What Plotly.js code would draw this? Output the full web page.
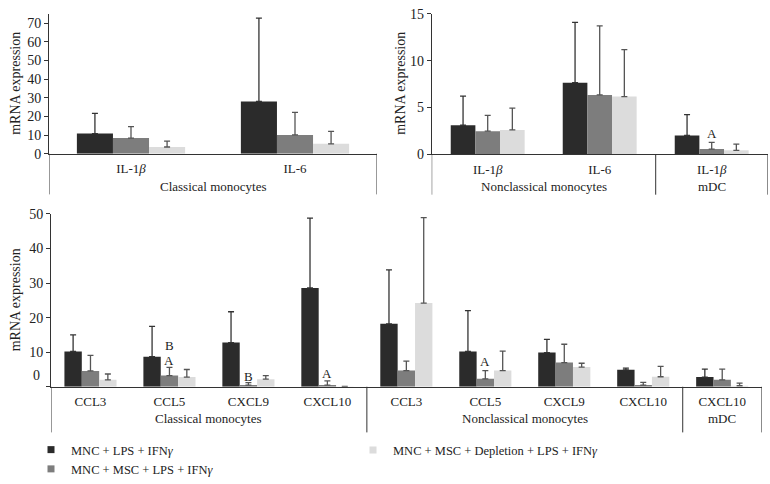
<!DOCTYPE html>
<html>
<head>
<meta charset="utf-8">
<script src="https://cdn.plot.ly/plotly-3.0.1.min.js"></script>
<style>html,body{margin:0;padding:0;background:#fff;}#chart{width:770px;height:484px;}</style>
</head>
<body>
<div id="chart"></div>
<script>
// ---------- data ----------
var seriesNames = ["MNC + LPS + IFN<i>γ</i>", "MNC + MSC + LPS + IFN<i>γ</i>", "MNC + MSC + Depletion + LPS + IFN<i>γ</i>"];

// Panel A (top left): classical monocytes
var groupsA = ["Classical monocytes", "Classical monocytes"];
var catsA = ["IL-1<i>β</i>", "IL-6"];
var a_lps = [10.8, 28.0];
var a_lps_err = [10.8, 44.7];
var a_msc = [8.4, 10.1];
var a_msc_err = [6.1, 12.1];
var a_dep = [3.6, 5.3];
var a_dep_err = [3.1, 6.7];

// Panel B (top right): nonclassical monocytes and mDC
var groupsB = ["Nonclassical monocytes", "Nonclassical monocytes", "mDC"];
var catsB = ["IL-1<i>β</i>", "IL-6", "IL-1<i>β</i>"];
var b_lps = [3.08, 7.64, 1.98];
var b_lps_err = [3.12, 6.44, 2.23];
var b_msc = [2.44, 6.33, 0.53];
var b_msc_err = [1.70, 7.39, 0.71];
var b_dep = [2.58, 6.15, 0.39];
var b_dep_err = [2.34, 5.03, 0.67];

// Panel C (bottom): chemokines
var groupsC = ["Classical monocytes", "Classical monocytes", "Classical monocytes", "Classical monocytes",
               "Nonclassical monocytes", "Nonclassical monocytes", "Nonclassical monocytes", "Nonclassical monocytes", "mDC"];
var catsC = ["CCL3", "CCL5", "CXCL9", "CXCL10", "CCL3", "CCL5", "CXCL9", "CXCL10", "CXCL10"];
var c_lps = [10.2, 8.7, 12.8, 28.6, 18.2, 10.2, 9.9, 4.9, 2.8];
var c_lps_err = [4.8, 8.8, 8.9, 20.2, 15.6, 11.8, 3.8, 0.5, 2.3];
var c_msc = [4.6, 3.25, 0.5, 0.5, 4.7, 2.3, 7.0, 0.5, 2.0];
var c_msc_err = [4.5, 2.35, 0.7, 1.2, 2.7, 2.4, 5.3, 0.8, 3.1];
var c_dep = [2.0, 2.8, 2.2, 0.08, 24.2, 4.7, 5.7, 2.9, 0.3];
var c_dep_err = [1.7, 2.2, 1.0, 0, 24.7, 5.6, 1.1, 3.0, 0.75];

// significance letters: [panel, category index, y (letter centre), text]
var sigLabels = [
  ["B", 2, 2.15, "A"],
  ["C", 1, 7.7, "A"],
  ["C", 1, 12.0, "B"],
  ["C", 2, 2.9, "B"],
  ["C", 3, 3.8, "A"],
  ["C", 5, 7.2, "A"]
];

// ---------- style ----------
var colors = ["#2b2b2b", "#7d7d7d", "#dcdcdc"];
var errColors = ["#333333", "#555555", "#555555"];
var fontFam = "'Liberation Serif', 'Times New Roman', serif";
var txtColor = "#222";
var W = 770, H = 484;

function idx(arr) { return arr.map(function(_, i) { return i; }); }

function mk(cats, vals, errs, k, xa, ya) {
  return {
    type: "bar",
    x: idx(cats),
    y: vals,
    name: seriesNames[k],
    marker: {color: colors[k], line: {width: 0}},
    error_y: {type: "data", symmetric: false, array: errs, arrayminus: vals.map(function(){return 0;}),
              color: errColors[k], thickness: 1.3, width: 3},
    xaxis: xa, yaxis: ya,
    showlegend: false,
    hoverinfo: "y"
  };
}
// legend-only proxies (small square swatches like the reference)
function legendProxy(k) {
  return {
    type: "scatter", mode: "markers", x: [null], y: [null], name: seriesNames[k],
    marker: {symbol: "square", size: 7, color: colors[k], line: {width: 0}},
    showlegend: true, legend: k === 2 ? "legend2" : "legend", hoverinfo: "skip"
  };
}

var data = [
  mk(catsA, a_lps, a_lps_err, 0, "x", "y"),
  mk(catsA, a_msc, a_msc_err, 1, "x", "y"),
  mk(catsA, a_dep, a_dep_err, 2, "x", "y"),
  mk(catsB, b_lps, b_lps_err, 0, "x2", "y2"),
  mk(catsB, b_msc, b_msc_err, 1, "x2", "y2"),
  mk(catsB, b_dep, b_dep_err, 2, "x2", "y2"),
  mk(catsC, c_lps, c_lps_err, 0, "x3", "y3"),
  mk(catsC, c_msc, c_msc_err, 1, "x3", "y3"),
  mk(catsC, c_dep, c_dep_err, 2, "x3", "y3"),
  legendProxy(0), legendProxy(1), legendProxy(2)
];

function xax(l, r, anchor, cats) {
  return {
    type: "linear", domain: [l / W, r / W], anchor: anchor,
    range: [-0.5, cats.length - 0.5],
    tickmode: "array", tickvals: idx(cats), ticktext: cats,
    showline: true, linecolor: "#333", linewidth: 1,
    ticks: "", showgrid: false, zeroline: false,
    ticklabelstandoff: 3,
    tickfont: {family: fontFam, size: 13, color: txtColor}
  };
}
function yax(bot, top, range, dtick, anchor, extra) {
  var o = {
    domain: [1 - bot / H, 1 - top / H], range: range, anchor: anchor,
    showline: true, linecolor: "#333", linewidth: 1,
    ticks: "outside", ticklen: 4, tickcolor: "#333", dtick: dtick,
    showgrid: false, zeroline: false,
    tickfont: {family: fontFam, size: 14, color: txtColor}
  };
  for (var k in extra) o[k] = extra[k];
  return o;
}

var annotations = [];
var shapes = [];

// group labels and dividers under each x axis, derived from the group arrays
function groupDecor(groups, xref, baseY, labelOff, divLen) {
  var start = 0;
  for (var i = 1; i <= groups.length; i++) {
    if (i === groups.length || groups[i] !== groups[start]) {
      annotations.push({text: groups[start], xref: xref, yref: "paper", x: (start + i - 1) / 2,
        y: 1 - (baseY + labelOff) / H, showarrow: false, xanchor: "center", yanchor: "middle",
        font: {family: fontFam, size: 13, color: txtColor}});
      start = i;
    }
  }
  var bounds = [-0.5];
  for (var j = 1; j < groups.length; j++) if (groups[j] !== groups[j - 1]) bounds.push(j - 0.5);
  bounds.push(groups.length - 0.5);
  bounds.forEach(function(b) {
    shapes.push({type: "line", xref: xref, yref: "paper", x0: b, x1: b,
      y0: 1 - baseY / H, y1: 1 - (baseY + divLen) / H, line: {color: "#333", width: 1}});
  });
}
groupDecor(groupsA, "x", 155, 33, 41);
groupDecor(groupsB, "x2", 155.3, 33, 41);
groupDecor(groupsC, "x3", 390, 32, 46);

var yTitles = [[16, (155 + 14) / 2], [401, (155 + 14) / 2], [15, (390 + 215.7) / 2]];
yTitles.forEach(function(p) {
  annotations.push({text: "mRNA expression", xref: "paper", yref: "paper", x: p[0] / W, y: 1 - p[1] / H,
    textangle: -90, showarrow: false, xanchor: "center", yanchor: "middle",
    font: {family: fontFam, size: 14, color: txtColor}});
});
sigLabels.forEach(function(s) {
  var ax = s[0] === "B" ? "2" : "3";
  annotations.push({text: s[3], xref: "x" + ax, yref: "y" + ax, x: s[1], y: s[2],
    showarrow: false, yanchor: "middle", font: {family: fontFam, size: 13, color: txtColor}});
});
// the bottom axis draws its "0" label slightly above the baseline
annotations.push({text: "0", xref: "paper", yref: "y3", x: 42 / W, y: 3.4, xanchor: "right", yanchor: "middle",
  showarrow: false, font: {family: fontFam, size: 14, color: txtColor}});

var layout = {
  width: W, height: H,
  margin: {l: 0, r: 0, t: 0, b: 0},
  paper_bgcolor: "#fff", plot_bgcolor: "#fff",
  barmode: "group", bargap: 0.34, bargroupgap: 0,
  font: {family: fontFam, color: txtColor},
  xaxis: xax(49, 377, "y", catsA),
  yaxis: yax(155, 14, [0, 75], 10, "x"),
  xaxis2: xax(431.7, 767.7, "y2", catsB),
  yaxis2: yax(155.3, 14, [0, 15], 5, "x2"),
  xaxis3: xax(51, 761.7, "y3", catsC),
  yaxis3: yax(390, 215.7, [0, 50], 10, "x3", {tickmode: "array", tickvals: [0, 10, 20, 30, 40, 50], ticktext: ["", "10", "20", "30", "40", "50"]}),
  legend: {x: 31 / W, y: 1 - 439 / H, xanchor: "left", yanchor: "top", orientation: "v", tracegroupgap: 0,
    font: {family: fontFam, size: 12.5, color: txtColor}, bgcolor: "rgba(0,0,0,0)", traceorder: "normal"},
  legend2: {x: 353 / W, y: 1 - 439 / H, xanchor: "left", yanchor: "top", orientation: "v",
    font: {family: fontFam, size: 12.5, color: txtColor}, bgcolor: "rgba(0,0,0,0)"},
  annotations: annotations,
  shapes: shapes,
  showlegend: true
};

Plotly.newPlot("chart", data, layout, {displayModeBar: false, staticPlot: true});
</script>
</body>
</html>
